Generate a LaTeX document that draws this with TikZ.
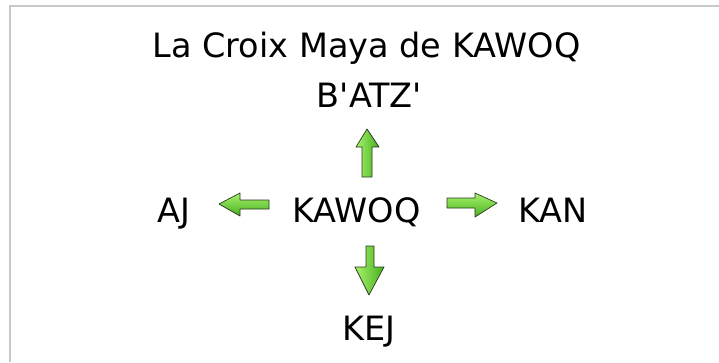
\documentclass[tikz,border=0pt]{standalone}
\usepackage{fontspec}
\setmainfont{DejaVu Sans}
\definecolor{glight}{HTML}{A6F26A}
\definecolor{gdark}{HTML}{48B020}
\definecolor{gedge}{HTML}{2A3A20}
\definecolor{frame}{HTML}{C8C8C8}
\begin{document}
\begin{tikzpicture}[x=1pt,y=-1pt,
  lbl/.style={anchor=base,inner sep=0pt,font=\fontsize{33.5}{40}\selectfont},
  garrowh/.style={draw=gedge,line width=0.7pt,top color=glight,bottom color=gdark,line join=round},
  garrowv/.style={draw=gedge,line width=0.7pt,left color=glight,right color=gdark,line join=round}]
\useasboundingbox (0,0) rectangle (719,362);
\fill[white] (0,0) rectangle (719,362);
\draw[frame,line width=2pt] (10,362) -- (10,6) -- (719,6);
\node[lbl] (title) at (366.5,57) {La Croix Maya de KAWOQ};
\node[lbl] (batz) at (369.5,107) {B\textquotesingle ATZ\textquotesingle};
\node[lbl] (aj) at (173.5,222) {AJ};
\node[lbl] (kawoq) at (356.5,222) {KAWOQ};
\node[lbl] (kan) at (553,222) {KAN};
\node[lbl] (kej) at (369,340) {KEJ};
% up arrow
\path[garrowv] (362,177) -- (362,147) -- (356,147) -- (367,129) -- (379,147) -- (372,147) -- (372,177) -- cycle;
% down arrow
\path[garrowv] (366,246) -- (374,246) -- (374,267) -- (384,267) -- (369,295) -- (355,267) -- (366,267) -- cycle;
% left arrow
\path[garrowh] (269,200) -- (240,200) -- (240,193) -- (219,204) -- (240,216) -- (240,209) -- (269,209) -- cycle;
% right arrow
\path[garrowh] (447,198) -- (475,198) -- (475,193) -- (497,203) -- (475,217) -- (475,208) -- (447,208) -- cycle;
\end{tikzpicture}
\end{document}
